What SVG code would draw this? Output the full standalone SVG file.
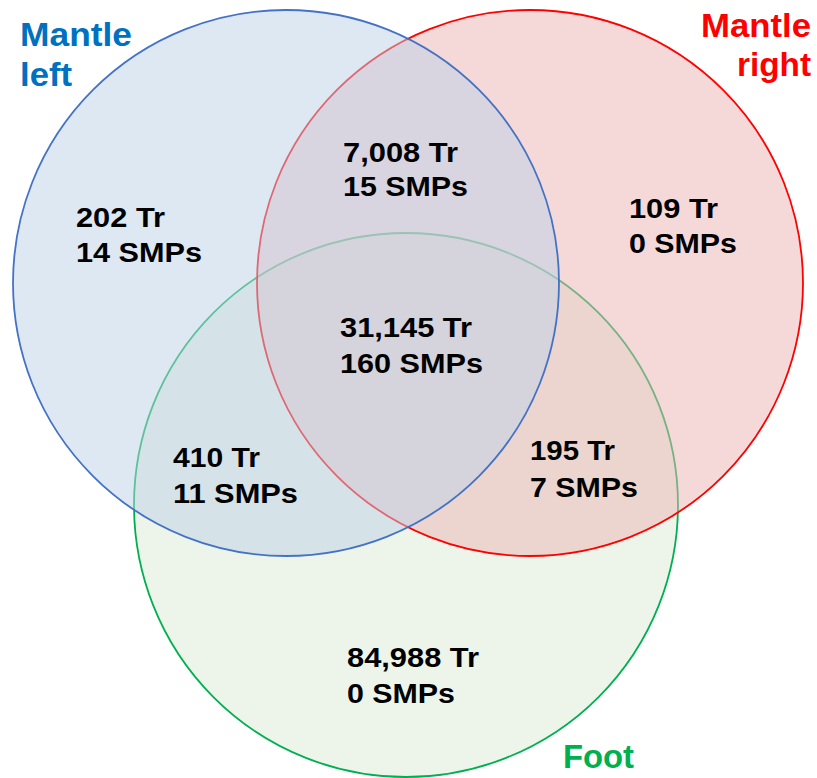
<svg xmlns="http://www.w3.org/2000/svg" width="817" height="778" viewBox="0 0 817 778">
  <style>
    .set { stroke-width: 1.8; fill-opacity: 0.5; }
    .num { font-family: "Liberation Sans", Arial, sans-serif; font-weight: bold; font-size: 28.5px; fill: #000000; }
    .title { font-family: "Liberation Sans", Arial, sans-serif; font-weight: bold; font-size: 33px; }
  </style>
  <rect x="0" y="0" width="817" height="778" fill="#ffffff"/>
  <g id="sets">
    <g id="foot">
      <circle class="set" cx="406" cy="505" r="272" fill="#dbebd7" stroke="#00b050"/>
    </g>
    <g id="mantle-right">
      <circle class="set" cx="530" cy="283" r="273" fill="#ebb3b3" stroke="#ff0000"/>
    </g>
    <g id="mantle-left">
      <circle class="set" cx="286" cy="283" r="273" fill="#bdd1e8" stroke="#4472c4"/>
    </g>
  </g>
  <g id="connectors"/>
  <g id="titles">
    <g id="title-mantle-left" class="title" fill="#0070c0">
      <text x="20" y="46" textLength="112" lengthAdjust="spacingAndGlyphs">Mantle</text>
      <text x="20" y="86" textLength="52" lengthAdjust="spacingAndGlyphs">left</text>
    </g>
    <g id="title-mantle-right" class="title" fill="#ff0000">
      <text x="701" y="37" textLength="110" lengthAdjust="spacingAndGlyphs">Mantle</text>
      <text x="737" y="76" textLength="74" lengthAdjust="spacingAndGlyphs">right</text>
    </g>
    <g id="title-foot" class="title" fill="#00b050">
      <text x="563" y="768" textLength="71" lengthAdjust="spacingAndGlyphs">Foot</text>
    </g>
  </g>
  <g id="regions" class="num">
    <g id="region-left-only">
      <text x="76" y="227" textLength="89" lengthAdjust="spacingAndGlyphs">202 Tr</text>
      <text x="76" y="262" textLength="126" lengthAdjust="spacingAndGlyphs">14 SMPs</text>
    </g>
    <g id="region-left-right">
      <text x="343" y="162" textLength="115" lengthAdjust="spacingAndGlyphs">7,008 Tr</text>
      <text x="343" y="196" textLength="125" lengthAdjust="spacingAndGlyphs">15 SMPs</text>
    </g>
    <g id="region-right-only">
      <text x="629" y="218" textLength="89" lengthAdjust="spacingAndGlyphs">109 Tr</text>
      <text x="629" y="253" textLength="108" lengthAdjust="spacingAndGlyphs">0 SMPs</text>
    </g>
    <g id="region-all">
      <text x="340" y="337" textLength="132" lengthAdjust="spacingAndGlyphs">31,145 Tr</text>
      <text x="340" y="373" textLength="143" lengthAdjust="spacingAndGlyphs">160 SMPs</text>
    </g>
    <g id="region-left-foot">
      <text x="173" y="467" textLength="87" lengthAdjust="spacingAndGlyphs">410 Tr</text>
      <text x="173" y="503" textLength="125" lengthAdjust="spacingAndGlyphs">11 SMPs</text>
    </g>
    <g id="region-right-foot">
      <text x="530" y="460" textLength="85" lengthAdjust="spacingAndGlyphs">195 Tr</text>
      <text x="530" y="497" textLength="108" lengthAdjust="spacingAndGlyphs">7 SMPs</text>
    </g>
    <g id="region-foot-only">
      <text x="347" y="667" textLength="132" lengthAdjust="spacingAndGlyphs">84,988 Tr</text>
      <text x="347" y="703" textLength="108" lengthAdjust="spacingAndGlyphs">0 SMPs</text>
    </g>
  </g>
</svg>
